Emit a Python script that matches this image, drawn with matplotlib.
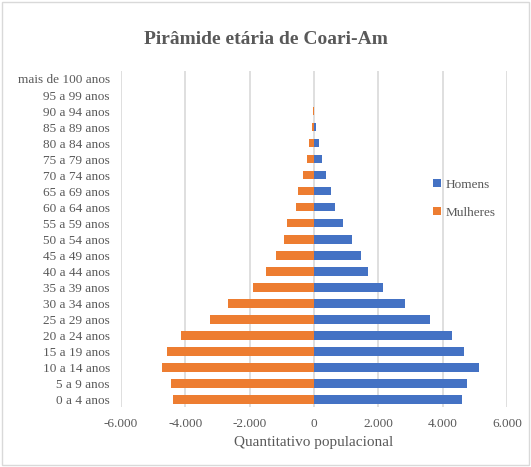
import matplotlib.pyplot as plt
from matplotlib.ticker import FuncFormatter
from matplotlib.patches import Rectangle

plt.rcParams['font.family'] = ['Liberation Serif', 'DejaVu Serif']

faixas = ['0 a 4 anos', '5 a 9 anos', '10 a 14 anos', '15 a 19 anos', '20 a 24 anos',
          '25 a 29 anos', '30 a 34 anos', '35 a 39 anos', '40 a 44 anos', '45 a 49 anos',
          '50 a 54 anos', '55 a 59 anos', '60 a 64 anos', '65 a 69 anos', '70 a 74 anos',
          '75 a 79 anos', '80 a 84 anos', '85 a 89 anos', '90 a 94 anos', '95 a 99 anos',
          'mais de 100 anos']
homens = [4605, 4760, 5135, 4670, 4300, 3600, 2830, 2150, 1670, 1470,
          1170, 885, 645, 530, 375, 250, 155, 60, 10, 0, 0]
mulheres = [4395, 4435, 4725, 4560, 4145, 3235, 2675, 1900, 1500, 1170,
            930, 830, 560, 500, 340, 230, 145, 80, 40, 0, 0]

azul = '#4472C4'
laranja = '#ED7D31'
cinza = '#595959'

fig = plt.figure(figsize=(5.31, 4.67), dpi=100)
ax = fig.add_axes([0.228, 0.128, 0.727, 0.72])

pos = range(len(faixas))
ax.barh(pos, homens, height=0.55, color=azul, label='Homens', zorder=3)
ax.barh(pos, [-m for m in mulheres], height=0.55, color=laranja, label='Mulheres', zorder=3)

ax.set_xlim(-6000, 6000)
ax.set_ylim(-0.5, len(faixas) - 0.5)
ax.set_xticks(range(-6000, 6001, 2000))
ax.xaxis.set_major_formatter(FuncFormatter(lambda v, p: f'{int(v):,}'.replace(',', '.')))
ax.set_yticks(list(pos))
ax.set_yticklabels(faixas)
ax.grid(axis='x', color='#D9D9D9', linewidth=1.2, zorder=0)
for s in ax.spines.values():
    s.set_visible(False)
ax.tick_params(length=0, colors=cinza, labelsize=9.5, pad=8)
ax.set_xlabel('Quantitativo populacional', color=cinza, fontsize=11, labelpad=4)

fig.text(0.5, 0.915, 'Pirâmide etária de Coari-Am', ha='center', va='center',
         fontsize=14, fontweight='bold', color=cinza)

ax.legend(loc='upper left', bbox_to_anchor=(0.777, 0.715), frameon=False, fontsize=9.5,
          labelcolor=cinza, handlelength=0.6, handleheight=0.6, handletextpad=0.4,
          labelspacing=1.2)

fig.patches.append(Rectangle((0.004, 0.004), 0.992, 0.992, transform=fig.transFigure,
                             fill=False, edgecolor='#D9D9D9', linewidth=1))

fig.savefig('out.png', dpi=100)
